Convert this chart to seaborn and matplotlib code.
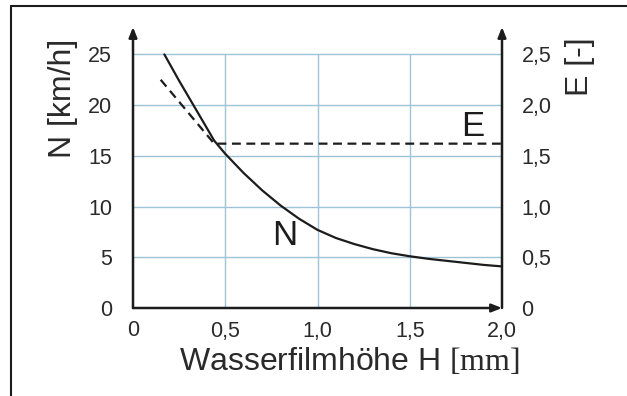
import matplotlib
matplotlib.use("Agg")
import matplotlib.pyplot as plt
import seaborn as sns
import pandas as pd
from matplotlib.lines import Line2D

# Data
n_h = [0.17, 0.25, 0.35, 0.44, 0.50, 0.60, 0.70, 0.80, 0.90, 1.00, 1.10, 1.20,
       1.30, 1.40, 1.50, 1.60, 1.70, 1.80, 1.90, 2.00]
n_val = [25.0, 22.4, 19.3, 16.5, 15.2, 13.3, 11.6, 10.1, 8.8, 7.7, 6.9, 6.3,
         5.8, 5.4, 5.1, 4.85, 4.65, 4.45, 4.25, 4.1]
e_h = [0.15, 0.44, 2.00]
e_val = [2.25, 1.62, 1.62]

x_ticks = [0, 0.5, 1.0, 1.5, 2.0]
x_labels = ["0", "0,5", "1,0", "1,5", "2,0"]
y_ticks = [0, 5, 10, 15, 20, 25]
y_labels = ["0", "5", "10", "15", "20", "25"]
e_ticks = [0, 0.5, 1.0, 1.5, 2.0, 2.5]
e_labels = ["0", "0,5", "1,0", "1,5", "2,0", "2,5"]

sns.set_theme(style="white")
plt.rcParams['font.family'] = ['Liberation Sans', 'DejaVu Sans']
plt.rcParams['mathtext.fontset'] = 'custom'
plt.rcParams['mathtext.rm'] = 'Liberation Serif'

W, H = 627, 396
fig = plt.figure(figsize=(W / 100, H / 100), dpi=100)
ax = fig.add_axes([133 / W, 1 - 308 / H, (502 - 133) / W, (308 - 27) / H])
ax.set_xlim(0, 2.0)
ax.set_ylim(0, 27.7)
ax2 = ax.twinx()
ax2.set_ylim(0, 2.77)

grid_c = "#9fc3d6"
for xt in x_ticks[1:-1]:
    ax.plot([xt, xt], [0, 25], color=grid_c, lw=1.0, zorder=1)
for yt in y_ticks[1:]:
    ax.plot([0, 2.0], [yt, yt], color=grid_c, lw=1.0, zorder=1)

dfn = pd.DataFrame({"H": n_h, "N": n_val})
sns.lineplot(data=dfn, x="H", y="N", ax=ax, color="#1c1c1c", lw=1.6, zorder=3)
dfe = pd.DataFrame({"H": e_h, "E": e_val})
sns.lineplot(data=dfe, x="H", y="E", ax=ax2, color="#1c1c1c", lw=1.6,
             dashes=False, zorder=3)
ax2.lines[-1].set_linestyle((0, (4, 2.5)))

for a in (ax, ax2):
    for s in a.spines.values():
        s.set_visible(False)
    a.set_xlabel("")
    a.set_ylabel("")

arrow_kw = dict(arrowstyle="-|>,head_length=0.5,head_width=0.2", color="#1c1c1c", lw=1.8,
                shrinkA=0, shrinkB=0)
ax.annotate("", xy=(0, 27.7), xytext=(0, 0), arrowprops=arrow_kw, annotation_clip=False)
ax.annotate("", xy=(2.0, 27.7), xytext=(2.0, 0), arrowprops=arrow_kw, annotation_clip=False)
ax.annotate("", xy=(2.0, 0), xytext=(0, 0), arrowprops=arrow_kw, annotation_clip=False)

tc = "#2a2a2a"
ax.set_xticks(x_ticks)
ax.set_xticklabels(x_labels)
ax.set_yticks(y_ticks)
ax.set_yticklabels(y_labels)
ax2.set_yticks(e_ticks)
ax2.set_yticklabels(e_labels)
ax.tick_params(axis="both", length=0, labelsize=15.5, colors=tc, pad=9)
ax.tick_params(axis="y", pad=15)
ax2.tick_params(axis="y", length=0, labelsize=15.5, colors=tc, pad=14)

ax.set_xlabel("Wasserfilmhöhe H $\\mathrm{[mm]}$", fontsize=23, color=tc)
ax.set_ylabel("N [km/h]", fontsize=23, color=tc)
ax2.set_ylabel("E [-]", fontsize=23, color=tc, rotation=90)
ax.xaxis.set_label_coords(0.588, -0.135)
ax.yaxis.set_label_coords(-0.15, 0.745)
ax2.yaxis.set_label_coords(1.17, 0.86)

ax.text(0.82, 7.1, "N", fontsize=25, color="#1c1c1c", ha="center", va="center")
ax.text(1.84, 17.9, "E", fontsize=25, color="#1c1c1c", ha="center", va="center")

# frame
fig.add_artist(Line2D([11 / W, 1], [1 - 6 / H, 1 - 6 / H], color="#1c1c1c", lw=1.5))
fig.add_artist(Line2D([11 / W, 11 / W], [0, 1 - 6 / H], color="#1c1c1c", lw=1.5))

fig.savefig("out.png", dpi=100)
